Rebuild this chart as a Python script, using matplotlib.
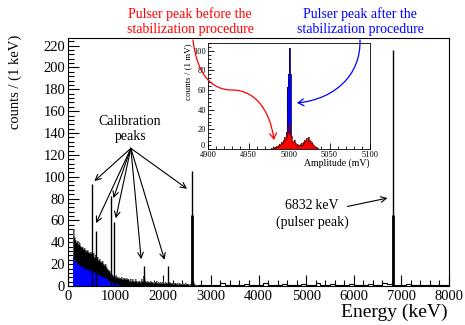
import numpy as np
import matplotlib
matplotlib.use("Agg")
import matplotlib.pyplot as plt
from matplotlib.path import Path
from matplotlib.patches import FancyArrowPatch
from matplotlib.ticker import MultipleLocator, FuncFormatter

plt.rcParams['font.family'] = ['Liberation Serif', 'DejaVu Serif']

# ---------------- data ----------------
# continuum (all events), 20 keV bins starting at 100 keV
cont_start = 100
cont_width = 20
cont_all = [52, 45, 42, 40, 41, 39, 38, 39, 37, 36,
            36, 34, 35, 33, 32, 33, 31, 30, 31, 30,
            29, 30, 27, 28, 26, 27, 25, 24, 25, 23,
            22, 23, 20, 19, 20, 17, 16, 15, 14, 12,
            11, 10, 9, 8, 9, 8, 8, 7, 8, 7,
            7, 8, 6, 7, 7, 6, 7, 6, 6, 5,
            6, 5, 6, 5, 5, 6, 5, 4, 5, 5,
            5, 4, 6, 5, 9, 6, 5, 4, 5, 4,
            4, 5, 4, 4, 3, 4, 4, 5, 3, 4,
            4, 3, 4, 3, 4, 3, 3, 4, 3, 3,
            3, 4, 3, 3, 3, 2, 3, 3, 2, 3,
            3, 2, 3, 2, 2, 3, 2, 2, 3, 2,
            2, 2, 1, 2, 2, 3, 4, 2, 1, 1]
# sub-selection (blue), 20 keV bins starting at 100 keV
cont_blue = [27, 24, 22, 21, 21, 20, 19, 19, 18, 18,
             17, 17, 16, 16, 15, 16, 15, 14, 15, 14,
             14, 13, 13, 12, 12, 11, 11, 10, 10, 9,
             9, 8, 8, 7, 7, 6, 6, 5, 5, 5,
             4, 4, 3, 3, 2, 2, 2, 1, 1, 0.5]
# high-energy tail, 100 keV bins starting at 2700 keV
tail_start = 2700
tail_width = 100
tail = [1, 0.5, 1, 0.5, 1, 3, 0.5, 1, 0.5, 1,
        2, 0.5, 0.5, 1, 3, 0.5, 1, 0.5, 2, 0.5,
        1, 0.5, 2, 0.5, 1, 3, 0.5, 1, 2, 0.5,
        1, 0.5, 2, 1, 0.5, 1, 2, 0.5, 1, 3,
        2, 1, 0.5, 1, 2, 0.5, 1, 0.5, 1, 0.5,
        0.5, 1, 0.5]
# calibration / pulser peaks
peak_energy = [511, 583, 911, 969, 1588, 2104, 2614, 6832]
peak_height = [93, 50, 82, 59, 18, 18, 105, 216]
core_energy = [2614, 6832]
core_height = [65, 65]

# inset: pulser peak amplitude (1 mV bins)
blue_start = 4994
blue_counts = [2, 5, 17, 63, 63, 76, 103, 76, 25, 8]
red_start = 4978
red_counts = [1, 0, 1, 2, 1, 2, 3, 2, 4, 3,
              5, 4, 7, 6, 9, 8, 12, 10, 15, 13,
              18, 16, 25, 14, 11, 13, 8, 7, 9, 5,
              6, 4, 5, 3, 4, 5, 3, 6, 4, 7,
              6, 9, 8, 11, 7, 10, 12, 9, 8, 6,
              7, 5, 4, 3, 2, 2, 1, 1]

calib_targets_x = [554, 589, 954, 1004, 1537, 2027, 2499]
calib_targets_y = [96, 57.5, 80.5, 62, 24.5, 24, 89]

# ---------------- figure ----------------
W, H = 465, 325
fig = plt.figure(figsize=(W / 100, H / 100), dpi=100)

def fx(px):
    return px / W

def fy(py):
    return 1 - py / H

ax = fig.add_axes([fx(68), fy(286), fx(449) - fx(68), fy(38) - fy(286)])

def edges(start, width, n):
    return start + width * np.arange(n + 1)

e_all = edges(cont_start, cont_width, len(cont_all))
ax.stairs(cont_all, e_all, fill=True, color='black', zorder=2)
ax.stairs(cont_all, e_all, color='#6e6e6e', lw=0.5, zorder=2.5)
e_blue = edges(cont_start, cont_width, len(cont_blue))
ax.stairs(cont_blue, e_blue, fill=True, color='#0000ff', zorder=3)
e_tail = edges(tail_start, tail_width, len(tail))
ax.stairs(tail, e_tail, color='black', lw=0.8, zorder=2)
ax.vlines(peak_energy, 0, peak_height, color='black', lw=1.0, zorder=4)
ax.vlines(core_energy, 0, core_height, color='black', lw=2.0, zorder=4)

ax.set_xlim(0, 8000)
ax.set_ylim(0, 227)
ax.xaxis.set_major_locator(MultipleLocator(1000))
ax.xaxis.set_minor_locator(MultipleLocator(200))
ax.yaxis.set_major_locator(MultipleLocator(20))
ax.yaxis.set_minor_locator(MultipleLocator(4))
ax.tick_params(which='both', direction='in', top=False, right=False,
               labelsize=10.5, width=0.8)
ax.tick_params(which='major', length=8, pad=2)
ax.tick_params(which='minor', length=4)
ax.tick_params(axis='x', pad=3)
for s in ax.spines.values():
    s.set_linewidth(0.8)

# annotations in main plot
ax.text(1305, 144, "Calibration\npeaks", ha='center', va='center',
        fontsize=10, linespacing=1.2)
for tx, ty in zip(calib_targets_x, calib_targets_y):
    ax.annotate("", xy=(tx, ty), xytext=(1320, 126),
                arrowprops=dict(arrowstyle='->', lw=0.8, color='black',
                                shrinkA=0, shrinkB=0))
ax.text(5126, 66, "6832\u2009keV\n(pulser peak)", ha='center', va='center',
        fontsize=10, linespacing=1.3)
ax.annotate("", xy=(6709, 80.5), xytext=(5867, 72.8),
            arrowprops=dict(arrowstyle='->', lw=0.8, color='black',
                            shrinkA=0, shrinkB=0))

fig.text(fx(15), fy(35), "counts / (1 keV)", rotation=90, ha='center',
         va='top', fontsize=10.5)
fig.text(fx(448), fy(312), "Energy (keV)", ha='right', va='center',
         fontsize=14)

# ---------------- inset ----------------
ins = fig.add_axes([fx(208), fy(149), fx(370) - fx(208), fy(43) - fy(149)])
eb = edges(blue_start, 1, len(blue_counts))
ins.stairs(blue_counts, eb, fill=True, color='#0000ff', zorder=2)
ins.stairs(blue_counts, eb, color='#00006a', lw=0.6, zorder=2.2)
er = edges(red_start, 1, len(red_counts))
ins.stairs(red_counts, er, fill=True, color='#ff0000', zorder=3)
ins.stairs(red_counts, er, color='#5a0000', lw=0.5, zorder=3.2)
ins.set_xlim(4900, 5100)
ins.set_ylim(0, 108)
ins.xaxis.set_major_locator(MultipleLocator(50))
ins.xaxis.set_minor_locator(MultipleLocator(10))
ins.yaxis.set_major_locator(MultipleLocator(20))
ins.yaxis.set_minor_locator(MultipleLocator(4))
ins.yaxis.set_major_formatter(FuncFormatter(lambda v, p: "" if v == 0 else f"{v:.0f}"))
ins.tick_params(which='both', direction='in', top=False, right=False,
                labelsize=6, width=0.6, pad=1.5)
ins.tick_params(which='major', length=4)
ins.tick_params(which='minor', length=2)
for s in ins.spines.values():
    s.set_linewidth(0.6)
fig.text(fx(205), fy(146), "0", ha='right', va='center', fontsize=6)
fig.text(fx(188), fy(43), "counts / (1 mV)", rotation=90, ha='center',
         va='top', fontsize=6.5)
fig.text(fx(370), fy(163), "Amplitude (mV)", ha='right', va='center',
         fontsize=7)

# ---------------- top labels & curved arrows ----------------
fig.text(fx(190), fy(21.5), "Pulser peak before the\nstabilization procedure",
         ha='center', va='center', color='#ff0000', fontsize=10,
         linespacing=1.25)
fig.text(fx(360), fy(21.5), "Pulser peak after the\nstabilization procedure",
         ha='center', va='center', color='#0000ff', fontsize=10,
         linespacing=1.25)

def curve(points, codes, color):
    verts = [(fx(x), fy(y)) for x, y in points]
    p = Path(verts, codes)
    arr = FancyArrowPatch(path=p, arrowstyle='->,head_length=4,head_width=2.5',
                          color=color, lw=0.9, transform=fig.transFigure)
    fig.patches.append(arr)

C = Path.CURVE4
curve([(193, 40), (197, 75), (212, 90), (232, 90),
       (255, 90), (270, 110), (274, 140)],
      [Path.MOVETO, C, C, C, C, C, C], '#ff0000')
curve([(360, 40), (361, 75), (335, 99), (297, 103)],
      [Path.MOVETO, C, C, C], '#0000ff')

fig.savefig("out.png", dpi=100)
